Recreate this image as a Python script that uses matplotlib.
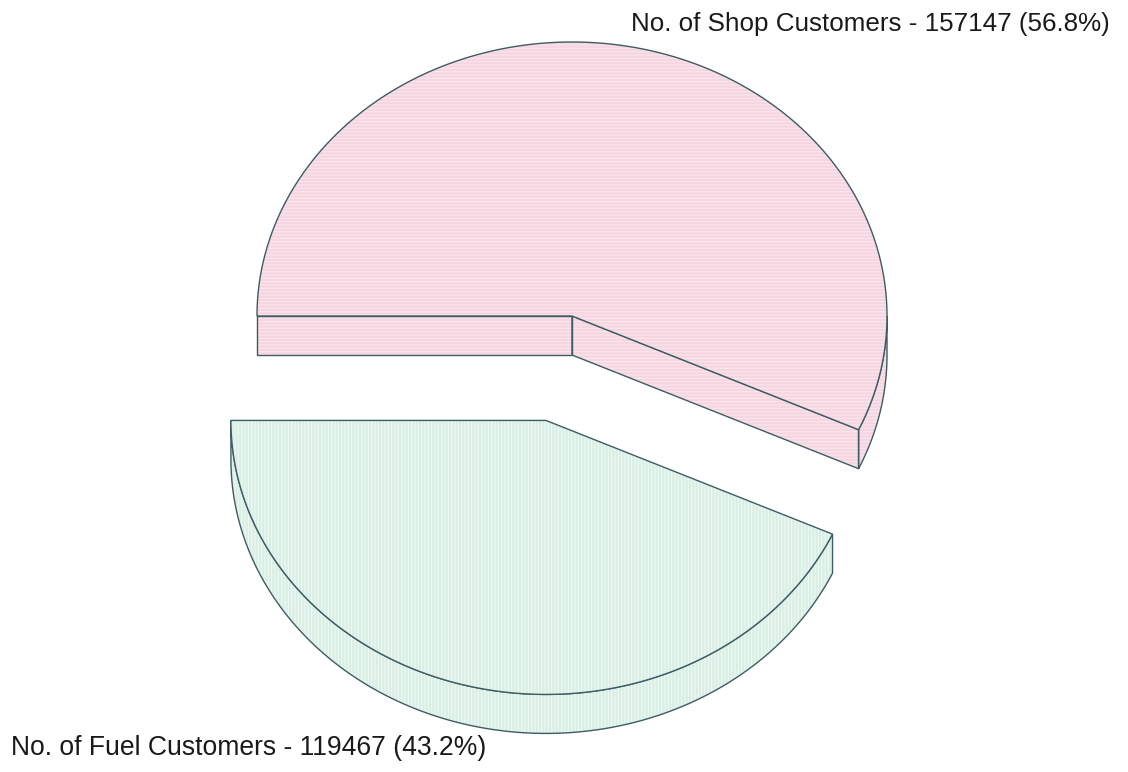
import numpy as np
import matplotlib
matplotlib.use("Agg")
import matplotlib.pyplot as plt
from matplotlib.patches import Polygon

# ---- data ----
labels = ["No. of Shop Customers", "No. of Fuel Customers"]
values = [157147, 119467]
face_colors = ["#f6d5e0", "#d9efe5"]
stripe_colors = ["#fbe7ee", "#eef9f2"]
hatches = ["-----", "|||||"]
explode = [0.0, 0.39]

# ---- geometry (style) ----
W, H = 1128, 772
cx, cy = 572, 316
rx, ry = 315, 274
depth = 39
start_angle = 180.0
edge = "#3d5c63"

plt.rcParams['hatch.linewidth'] = 0.8
fig = plt.figure(figsize=(W / 100, H / 100), dpi=100)
ax = fig.add_axes([0, 0, 1, 1])
ax.set_xlim(0, W)
ax.set_ylim(H, 0)
ax.axis("off")

total = float(sum(values))
fracs = [v / total for v in values]


def pt(c, t, dz=0.0):
    x0, y0 = c
    return (x0 + rx * np.cos(np.radians(t)), y0 - ry * np.sin(np.radians(t)) + dz)


def draw_poly(verts, fc, sc, hatch, z):
    ax.add_patch(Polygon(verts, closed=True, facecolor=fc, edgecolor=sc,
                         hatch=hatch, linewidth=0, zorder=z))
    ax.add_patch(Polygon(verts, closed=True, fill=False, edgecolor=edge,
                         linewidth=1.0, zorder=z + 0.5))


a0 = start_angle
for i, f in enumerate(fracs):
    a1 = a0 - f * 360.0  # clockwise
    mid = np.radians((a0 + a1) / 2)
    c = (cx + explode[i] * rx * np.cos(mid), cy - explode[i] * ry * np.sin(mid))
    fc, sc, hz = face_colors[i], stripe_colors[i], hatches[i]

    ts = np.linspace(a0, a1, 300)
    # outer side wall: visible on front half, angles within [-180, 0]
    lo, hi = max(a1, -180.0), min(a0, 0.0)
    if hi > lo:
        vis = np.linspace(hi, lo, 200)
        top = [pt(c, t) for t in vis]
        bot = [pt(c, t, depth) for t in vis[::-1]]
        draw_poly(top + bot, fc, sc, hz, 1)
    # cut faces of the rear slice face the viewer
    if i == 0:
        for a in (a0, a1):
            p = pt(c, a)
            draw_poly([c, p, (p[0], p[1] + depth), (c[0], c[1] + depth)],
                      fc, sc, hz, 1.2)
    # top face
    verts = [c] + [pt(c, t) for t in ts]
    draw_poly(verts, fc, sc, hz, 3)
    a0 = a1

pct = [100 * f for f in fracs]
ax.text(1110, 24, f"{labels[0]} - {values[0]} ({pct[0]:.1f}%)",
        ha="right", va="center", fontsize=18.7, family="Liberation Sans",
        color="#1a1a1a")
ax.text(11, 748, f"{labels[1]} - {values[1]} ({pct[1]:.1f}%)",
        ha="left", va="center", fontsize=19.1, family="Liberation Sans",
        color="#1a1a1a")

fig.savefig("out.png", dpi=100, facecolor="white")
